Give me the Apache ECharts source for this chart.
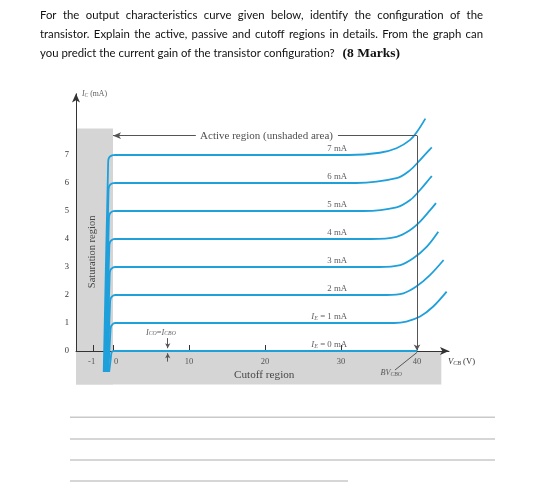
<!DOCTYPE html>
<html><head><meta charset="utf-8">
<script src="https://cdn.jsdelivr.net/npm/echarts@6/dist/echarts.min.js"></script>
<style>html,body{margin:0;padding:0;background:#fff}#c{width:540px;height:489px}</style>
</head><body><div id="c"></div>
<script>
// ---------------- data ----------------
const questionLines = [
  'For the output characteristics curve given below, identify the configuration of the',
  'transistor. Explain the active, passive and cutoff regions in details. From the graph can',
  'you predict the current gain of the transistor configuration?'
];
const questionMarks = '(8 Marks)';

const emitterCurrents = [0, 1, 2, 3, 4, 5, 6, 7];               // I_E (mA)
const curveLabels = ['I_E = 0 mA', 'I_E = 1 mA', '2 mA', '3 mA', '4 mA', '5 mA', '6 mA', '7 mA'];

// [V_CB (V), I_C (mA)]
const curve0 = [[-0.20,-0.75],[-0.12,-0.30],[-0.09,-0.10],[-0.05,-0.03],[0.02,-0.005],[0.3,0],[40,0]];
const curve1 = [[-0.24,-0.75],[-0.13,0.75],[-0.10,0.88],[-0.04,0.94],[0.03,0.98],[0.10,0.995],[0.35,1],[37,1.0],[38.6,1.05],[40.4,1.23],[42.1,1.58],[43.9,2.12]];
const curve2 = [[-0.28,-0.75],[-0.15,1.75],[-0.12,1.88],[-0.06,1.94],[0.02,1.98],[0.08,1.995],[0.35,2],[36,2.0],[38.2,2.06],[39.9,2.3],[41.7,2.71],[43.5,3.25]];
const curve3 = [[-0.32,-0.75],[-0.17,2.75],[-0.14,2.88],[-0.08,2.94],[0.0,2.98],[0.07,2.995],[0.33,3],[35,3.0],[37.8,3.07],[39.5,3.31],[41.3,3.73],[42.8,4.26]];
const curve4 = [[-0.36,-0.75],[-0.19,3.75],[-0.16,3.88],[-0.10,3.94],[-0.02,3.98],[0.06,3.995],[0.32,4],[34,4.0],[37.3,4.08],[39.1,4.32],[40.4,4.62],[41.7,5.02],[42.5,5.28]];
const curve5 = [[-0.40,-0.75],[-0.21,4.75],[-0.18,4.88],[-0.12,4.94],[-0.04,4.98],[0.05,4.995],[0.31,5],[33,5.0],[37.3,5.13],[39.1,5.39],[40.4,5.75],[41.7,6.17],[41.95,6.25]];
const curve6 = [[-0.44,-0.75],[-0.23,5.75],[-0.20,5.88],[-0.14,5.94],[-0.06,5.98],[0.05,5.995],[0.3,6],[32,6.0],[37.3,6.17],[39.1,6.46],[40.4,6.82],[41.7,7.2],[41.95,7.27]];
const curve7 = [[-0.48,-0.75],[-0.25,6.75],[-0.22,6.88],[-0.16,6.94],[-0.08,6.98],[0.05,6.995],[0.3,7],[31,7.0],[35.1,7.08],[37.3,7.24],[39.1,7.54],[40.0,7.83],[41.1,8.3]];
const curves = [curve0, curve1, curve2, curve3, curve4, curve5, curve6, curve7];

const xTickVolts = [-1, 0, 10, 20, 30];
const xLabelVolts = [-1, 0, 10, 20, 30, 40];
const yTickValues = [1, 2, 3, 4, 5, 6, 7];
const yLabelValues = [0, 1, 2, 3, 4, 5, 6, 7];

const breakdownVoltage = 40;       // BV_CBO (V)
const saturationTop = 7.95;        // mA, top of shaded saturation band
const cutoffRight = 43.2;          // V, right end of shaded cutoff band
const activeArrowLevel = 7.69;     // mA

// ---------------- layout / style ----------------
const NEG_SCALE = 2.55;                      // the figure stretches the negative V_CB part
const toAxis = v => v < 0 ? v * NEG_SCALE : v;
const X_MIN = -4.87, X_MAX = 44.21, Y_MIN = -1.2, Y_MAX = 9.2;
const BLUE = '#1fa0db', GRAY = '#d5d5d5', INK = '#333', LINE = '#555';
const SERIF = '"Liberation Serif", "DejaVu Serif", serif';

function toRich(s) {
  return s.split(/([A-Za-z]+_[A-Z]+)/).filter(p => p.length).map(p => {
    const m = p.match(/^([A-Za-z]+)_([A-Z]+)$/);
    return m ? '{i|' + m[1] + '}{s|' + m[2] + '}' : '{n|' + p + '}';
  }).join('');
}
function richStyles(fs) {
  return {
    n: {fontFamily: SERIF, fontSize: fs, color: INK},
    i: {fontFamily: SERIF, fontSize: fs, color: INK, fontStyle: 'italic'},
    s: {fontFamily: SERIF, fontSize: fs * 0.7, color: INK, fontStyle: 'italic', padding: [7, 0, 0, 0], lineHeight: 7, verticalAlign: 'bottom'}
  };
}

// ---------------- question text (justified) ----------------
const mctx = document.createElement('canvas').getContext('2d');
const tw = (t, font) => { mctx.font = font; return mctx.measureText(t).width; };
const QFONT = 'Lato';
const qfs = 11 * 295 / tw(questionLines[2], '11px ' + QFONT);
const TEXT_L = 40, TEXT_R = 483, baselines = [15.6, 34.6, 53.3];
const graphics = [];
questionLines.forEach((line, li) => {
  const words = line.split(' ');
  const font = qfs + 'px ' + QFONT;
  const widths = words.map(w => tw(w, font));
  const total = widths.reduce((a, b) => a + b, 0);
  const justify = li < 2;
  const gap = justify ? (TEXT_R - TEXT_L - total) / (words.length - 1) : tw(' ', font);
  let x = TEXT_L;
  words.forEach((w, wi) => {
    graphics.push({type: 'text', x: x, y: baselines[li], silent: true,
      style: {text: w, fontFamily: QFONT, fontSize: qfs, fill: '#111', align: 'left', verticalAlign: 'middle', textAlign: 'left', textVerticalAlign: 'middle'}});
    x += widths[wi] + gap;
  });
  if (li === 2) {
    graphics.push({type: 'text', x: x + 5, y: baselines[li], silent: true,
      style: {text: questionMarks, fontFamily: SERIF, fontWeight: 'bold', fontSize: 13.5, fill: '#111', align: 'left', verticalAlign: 'middle', textAlign: 'left', textVerticalAlign: 'middle'}});
  }
});
[[70, 417.3, 495], [70, 439, 495], [70, 460, 495], [70, 481, 348]].forEach(r => {
  graphics.push({type: 'line', silent: true, shape: {x1: r[0], y1: r[1], x2: r[2], y2: r[1]}, style: {stroke: '#c9c9c9', lineWidth: 1.5}});
});

// ---------------- series ----------------
const series = [];
series.push({
  type: 'line', name: 'regions', data: [], z: 1, silent: true,
  markArea: {silent: true, itemStyle: {color: GRAY}, data: [
    [{xAxis: X_MIN, yAxis: Y_MIN}, {xAxis: 0, yAxis: saturationTop}],
    [{xAxis: X_MIN, yAxis: Y_MIN}, {xAxis: cutoffRight, yAxis: 0}]
  ]}
});
curves.forEach((c, k) => {
  series.push({
    type: 'line', name: curveLabels[k], z: 3, silent: true, showSymbol: false, smooth: 0.35,
    lineStyle: {color: BLUE, width: 1.8},
    data: c.map(p => [toAxis(p[0]), p[1]])
  });
});

const ann = [];
const LABEL_V = 30.8;
emitterCurrents.forEach((ie, k) => {
  ann.push({value: [toAxis(LABEL_V), ie], label: {show: true, formatter: toRich(curveLabels[k]), rich: richStyles(8.8),
    position: 'inside', align: 'right', verticalAlign: 'middle', offset: [0, -6]}});
});
xLabelVolts.forEach(v => {
  ann.push({value: [toAxis(v), 0], label: {show: true, formatter: String(v), fontFamily: SERIF, fontSize: 8.5, color: INK,
    position: 'inside', align: 'center', verticalAlign: 'middle', offset: [v === 0 ? 3 : (v < 0 ? -2 : 0), 11]}});
});
ann.push({value: [X_MIN, Y_MAX], label: {show: true, formatter: toRich('I_C (mA)'), rich: richStyles(7.8),
  position: 'inside', align: 'left', verticalAlign: 'middle', offset: [6, 1]}});
ann.push({value: [20.2, activeArrowLevel], label: {show: true, formatter: 'Active region (unshaded area)', fontFamily: SERIF, fontSize: 11, color: '#222', position: 'inside', align: 'center', verticalAlign: 'middle'}});
ann.push({value: [19.9, -0.86], label: {show: true, formatter: 'Cutoff region', fontFamily: SERIF, fontSize: 11.2, color: '#222', position: 'inside', align: 'center', verticalAlign: 'middle'}});
ann.push({value: [toAxis(-1.08), 3.54], label: {show: true, formatter: 'Saturation region', fontFamily: SERIF, fontSize: 10.5, color: '#222', rotate: 90, position: 'inside', align: 'center', verticalAlign: 'middle'}});
ann.push({value: [6.3, 0.65], label: {show: true, formatter: toRich('I_CO=I_CBO'), rich: richStyles(8.3), position: 'inside', align: 'center', verticalAlign: 'middle'}});
ann.push({value: [36.6, -0.79], label: {show: true, formatter: toRich('BV_CBO'), rich: richStyles(8.2), position: 'inside', align: 'center', verticalAlign: 'middle'}});

series.push({
  type: 'scatter', name: 'annotations', z: 4, silent: true, symbolSize: 1, clip: false,
  itemStyle: {color: 'rgba(0,0,0,0)'},
  data: ann,
  markLine: {
    silent: true, animation: false, label: {show: false}, symbol: ['none', 'none'],
    lineStyle: {color: LINE, width: 1, type: 'solid'},
    data: [
      [{coord: [X_MIN, 0], symbol: 'none', lineStyle: {color: INK, width: 1, type: 'solid'}}, {coord: [X_MIN, Y_MAX], symbol: 'arrow', symbolSize: [6, 9]}],
      [{coord: [10.9, activeArrowLevel], symbol: 'none'}, {coord: [0, activeArrowLevel], symbol: 'arrow', symbolSize: [5, 8]}],
      [{coord: [29.6, activeArrowLevel], symbol: 'none'}, {coord: [breakdownVoltage, activeArrowLevel], symbol: 'none'}],
      [{coord: [breakdownVoltage, activeArrowLevel], symbol: 'none'}, {coord: [breakdownVoltage, 0.02], symbol: 'arrow', symbolSize: [5, 6]}],
      [{coord: [37.1, -0.68], symbol: 'none'}, {coord: [breakdownVoltage, -0.05], symbol: 'none'}],
      [{coord: [7.2, 0.46], symbol: 'none'}, {coord: [7.2, 0.1], symbol: 'arrow', symbolSize: [4, 5]}],
      [{coord: [7.2, -0.38], symbol: 'none'}, {coord: [7.2, -0.08], symbol: 'arrow', symbolSize: [4, 5]}]
    ]
  }
});

const option = {
  animation: false,
  backgroundColor: '#fff',
  graphic: graphics,
  grid: {left: 76, right: 540 - 449, top: 93.4, bottom: 489 - 384.6, containLabel: false},
  xAxis: {
    type: 'value', min: X_MIN, max: X_MAX, z: 2,
    axisLine: {show: true, onZero: true, lineStyle: {color: INK, width: 1}, symbol: ['none', 'arrow'], symbolSize: [6, 9]},
    axisTick: {show: true, inside: true, length: 6, customValues: xTickVolts.map(toAxis), lineStyle: {color: INK}},
    axisLabel: {show: false},
    splitLine: {show: false},
    name: toRich('V_CB (V)'), nameLocation: 'end', nameGap: -1,
    nameTextStyle: {align: 'left', verticalAlign: 'top', padding: [6, 0, 0, 0], rich: richStyles(8.6)}
  },
  yAxis: {
    type: 'value', min: Y_MIN, max: Y_MAX, z: 2,
    axisLine: {show: false},
    axisTick: {show: true, inside: true, length: 7, customValues: yTickValues, lineStyle: {color: INK}},
    axisLabel: {customValues: yLabelValues, fontFamily: SERIF, fontSize: 8.5, color: INK, margin: 7},
    splitLine: {show: false}
  },
  series: series
};
const chart = echarts.init(document.getElementById('c'), null, {renderer: 'canvas'});
chart.setOption(option);
</script>
</body></html>
